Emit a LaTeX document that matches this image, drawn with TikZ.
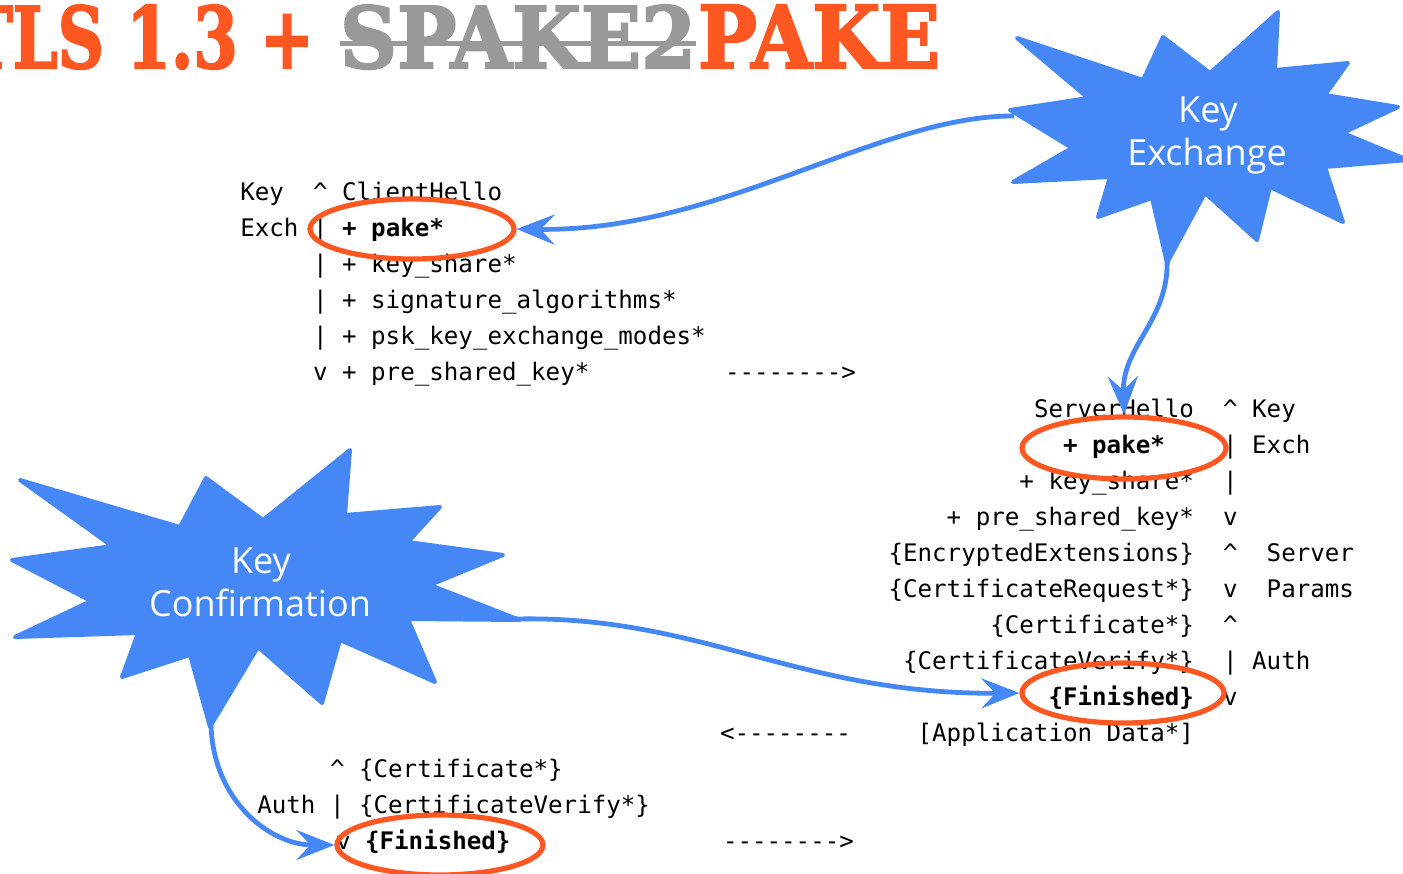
\documentclass[tikz,border=0pt]{standalone}
\usepackage{fontspec}
\setmainfont{DejaVu Serif}
\newfontfamily\mono{DejaVu Sans Mono}
\newfontfamily\starfont{Open Sans}
\newfontfamily\titlefont{DejaVu Serif Bold}[FakeBold=2.5]
\usetikzlibrary{arrows.meta,shapes.geometric}
\definecolor{kblue}{HTML}{4487F5}
\definecolor{korange}{HTML}{FF5722}
\definecolor{kgray}{HTML}{999999}
\newcommand{\ca}{\textasciicircum}
\begin{document}
\begin{tikzpicture}[x=0.5pt,y=-0.5pt,
  txt/.style={inner sep=0pt, outer sep=0pt, font=\mono\fontsize{12.08}{14}\selectfont},
  ring/.style={ellipse, draw=korange, line width=2.6pt, inner sep=0pt},
  flow/.style={draw=kblue, line width=2.4pt, -{Stealth[length=19pt,width=15pt,inset=7pt]}},
  burst/.style={fill=kblue, draw=kblue, line width=2pt, line join=round},
  burstlabel/.style={text=white, font=\starfont\fontsize{18}{21.5}\selectfont, inner sep=0pt},
  ttl/.style={inner sep=0pt, outer sep=0pt, font=\titlefont}
]
\useasboundingbox (0,0) rectangle (1403,873);
\clip (0,0) rectangle (1403,873);

% title
\node[ttl, anchor=base east, text=korange] (t1) at (314,68) {\resizebox{174.5pt}{31.5pt}{TLS 1.3 +}};
\node[ttl, anchor=base west, text=kgray] (t2) at (340,68) {\resizebox{178pt}{31.5pt}{SPAKE2}};
\node[ttl, anchor=base west, text=korange] (t3) at (698,68) {\resizebox{121pt}{31.5pt}{PAKE}};
\draw[kgray, line width=2.5pt] ([yshift=12.5pt]t2.base west) -- ([yshift=12.5pt]t2.base east);

% stars
\draw[burst] (1017,38) -- (1143,80) -- (1163,37) -- (1210,73) -- (1278,12) -- (1275,70) -- (1348,63) -- (1325,95) -- (1398,107) -- (1343,133) -- (1408,160) -- (1325,167) -- (1343,222) -- (1270,187) -- (1257,240) -- (1205,193) -- (1167,263) -- (1152,198) -- (1098,217) -- (1110,177) -- (1013,182) -- (1072,148) -- (1010,110) -- (1088,98) -- cycle;
\draw[burst] (20,480) -- (180,527) -- (206,478) -- (263,520) -- (350,450) -- (345,515) -- (440,507) -- (408,542) -- (503,555) -- (430,585) -- (520,620) -- (408,619) -- (435,682) -- (340,640) -- (322,703) -- (258,647) -- (210,727) -- (190,655) -- (122,677) -- (138,633) -- (15,637) -- (91,601) -- (12,560) -- (112,546) -- cycle;
\coordinate (kxw) at (1014,116);
\coordinate (kxs) at (1167,258);
\coordinate (kce) at (516,619);
\coordinate (kcs) at (211,723);

\node[burstlabel, anchor=base] (kx1) at (1208,122) {Key};
\node[burstlabel, anchor=base] (kx2) at (1207,165) {Exchange};
\node[burstlabel, anchor=base] (kc1) at (261,573) {Key};
\node[burstlabel, anchor=base] (kc2) at (260,616) {Confirmation};

% client block (top)
\node[txt, anchor=base west] (c1) at (240.3,200) {Key~~\ca~ClientHello};
\node[txt, anchor=base west] (c2) at (240.3,236) {Exch~|~\textbf{+~pake*}};
\node[txt, anchor=base west] (c3) at (313,272) {|~+~key\_share*};
\node[txt, anchor=base west] (c4) at (313,308) {|~+~signature\_algorithms*};
\node[txt, anchor=base west] (c5) at (313,344) {|~+~psk\_key\_exchange\_modes*};
\node[txt, anchor=base west] (c6) at (313,380) {v~+~pre\_shared\_key*};
\node[txt, anchor=base west] (d1) at (725,380) {-------->};

% server block (right)
\node[txt, anchor=base east] (s1) at (1194,417) {ServerHello};
\node[txt, anchor=base west] (m1) at (1194,417) {~~\ca~Key};
\node[txt, anchor=base east] (s2) at (1164.9,453) {\textbf{+~pake*}};
\node[txt, anchor=base west] (m2) at (1194,453) {~~|~Exch};
\node[txt, anchor=base east] (s3) at (1194,489) {+~key\_share*};
\node[txt, anchor=base west] (m3) at (1194,489) {~~|};
\node[txt, anchor=base east] (s4) at (1194,525) {+~pre\_shared\_key*};
\node[txt, anchor=base west] (m4) at (1194,525) {~~v};
\node[txt, anchor=base east] (s5) at (1194,561) {\{EncryptedExtensions\}};
\node[txt, anchor=base west] (m5) at (1194,561) {~~\ca~~Server};
\node[txt, anchor=base east] (s6) at (1194,597) {\{CertificateRequest*\}};
\node[txt, anchor=base west] (m6) at (1194,597) {~~v~~Params};
\node[txt, anchor=base east] (s7) at (1194,633) {\{Certificate*\}};
\node[txt, anchor=base west] (m7) at (1194,633) {~~\ca};
\node[txt, anchor=base east] (s8) at (1194,669) {\{CertificateVerify*\}};
\node[txt, anchor=base west] (m8) at (1194,669) {~~|~Auth};
\node[txt, anchor=base east] (s9) at (1194,705) {\textbf{\{Finished\}}};
\node[txt, anchor=base west] (m9) at (1194,705) {~~v};
\node[txt, anchor=base east] (s10) at (1194,741) {[Application~Data*]};
\node[txt, anchor=base west] (d2) at (720,741) {<--------};

% client block (bottom)
\node[txt, anchor=base west] (b1) at (330,777) {\ca~\{Certificate*\}};
\node[txt, anchor=base west] (b2) at (257.3,813) {Auth~|~\{CertificateVerify*\}};
\node[txt, anchor=base west] (b3) at (336,849) {v~\textbf{\{Finished\}}};
\node[txt, anchor=base west] (d3) at (723,849) {-------->};

% highlight rings
\node[ring, minimum width=102pt, minimum height=30pt] (e1) at (412,229) {};
\node[ring, minimum width=102pt, minimum height=31pt] (e2) at (1124,448) {};
\node[ring, minimum width=101pt, minimum height=30pt] (e3) at (1123,693) {};
\node[ring, minimum width=103pt, minimum height=30pt] (e4) at (440,845) {};

% connectors
\draw[flow] (kxw) .. controls (880,115) and (720,232) .. (e1.east);
\draw[flow] (kxs) .. controls (1170,320) and (1122,345) .. (e2.north);
\draw[flow] (kce) .. controls (700,615) and (800,695) .. (e3.west);
\draw[flow] (kcs) .. controls (212,800) and (270,845) .. (e4.west);
\end{tikzpicture}
\end{document}
